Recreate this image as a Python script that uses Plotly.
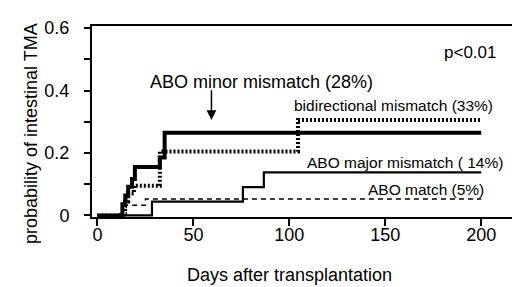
import plotly.graph_objects as go

# ---- data (days after transplantation, cumulative probability) ----
minor_days = [0, 13, 14.5, 16, 18, 19.5, 32.5, 35, 200]
minor_vals = [0, 0.036, 0.064, 0.092, 0.117, 0.155, 0.186, 0.265, 0.265]

bidir_days = [0, 12.3, 14.4, 16, 19, 32.5, 104.5, 200]
bidir_vals = [0, 0.014, 0.045, 0.07, 0.095, 0.205, 0.306, 0.306]

major_days = [0, 28.4, 75.8, 86.7, 200]
major_vals = [0, 0.044, 0.091, 0.138, 0.138]

match_days = [0, 15, 25, 200]
match_vals = [0, 0.033, 0.053, 0.053]

x_ticks = [0, 50, 100, 150, 200]
y_ticks = [0, 0.1, 0.2, 0.3, 0.4, 0.5, 0.6]
y_ticktext = ["0", "", "0.2", "", "0.4", "", "0.6"]

FONT = "Liberation Sans, Arial, sans-serif"

W, H = 520, 287
ML, MR, MT, MB = 84, 11, 14, 78
XR = [-2.85, 217.6]
YR = [-0.005, 0.607]
PW, PH = W - ML - MR, H - MT - MB


def px2x(px):
    return XR[0] + (px - ML) / PW * (XR[1] - XR[0])


def px2y(py):
    return YR[1] - (py - MT) / PH * (YR[1] - YR[0])


fig = go.Figure()
fig.add_trace(go.Scatter(x=match_days, y=match_vals, mode="lines", line_shape="hv",
                         line=dict(color="black", width=1.5, dash="5px,4px")))
fig.add_trace(go.Scatter(x=major_days, y=major_vals, mode="lines", line_shape="hv",
                         line=dict(color="black", width=2.2)))
fig.add_trace(go.Scatter(x=bidir_days, y=bidir_vals, mode="lines", line_shape="hv",
                         line=dict(color="black", width=4, dash="2px,2px")))
fig.add_trace(go.Scatter(x=minor_days, y=minor_vals, mode="lines", line_shape="hv",
                         line=dict(color="black", width=4)))

ann = [
    ("ABO minor mismatch (28%)", 254, 71, 18),
    ("p<0.01", 464, 41, 17),
    ("bidirectional mismatch (33%)", 387, 95, 15.5),
    ("ABO major mismatch ( 14%)", 398, 153, 15.5),
    ("ABO match (5%)", 420, 181, 15.5),
]
for text, cx, cy, fs in ann:
    fig.add_annotation(x=px2x(cx), y=px2y(cy), xref="x", yref="y", text=text,
                       showarrow=False, xanchor="center", yanchor="middle",
                       font=dict(family=FONT, size=fs, color="black"))

# arrow
fig.add_annotation(x=px2x(204), y=px2y(110), ax=px2x(204), ay=px2y(78),
                   xref="x", yref="y", axref="x", ayref="y", text="",
                   showarrow=True, arrowhead=2, arrowsize=1.3, arrowwidth=1.5,
                   arrowcolor="black")

# axis titles
fig.add_annotation(x=(22 - ML) / PW, y=1 - (124 - MT) / PH, xref="paper", yref="paper",
                   text="probability of intestinal TMA", showarrow=False, textangle=-90,
                   xanchor="center", yanchor="middle",
                   font=dict(family=FONT, size=18, color="black"))
fig.add_annotation(x=(282 - ML) / PW, y=1 - (268 - MT) / PH,
                   xref="paper", yref="paper", text="Days after transplantation",
                   showarrow=False, xanchor="center", yanchor="middle",
                   font=dict(family=FONT, size=18, color="black"))

fig.update_layout(
    width=W, height=H,
    margin=dict(l=ML, r=MR, t=MT, b=MB, pad=0),
    paper_bgcolor="white", plot_bgcolor="white",
    showlegend=False,
    font=dict(family=FONT, size=18, color="black"),
)
fig.update_xaxes(range=XR, tickvals=x_ticks, ticks="outside", ticklen=7, tickwidth=1.5,
                 tickcolor="black", showline=True, mirror=True, linewidth=2, linecolor="black",
                 showgrid=False, zeroline=False, tickfont=dict(family=FONT, size=18),
                 ticklabelstandoff=-7)
fig.update_yaxes(range=YR, tickvals=y_ticks, ticktext=y_ticktext, ticks="outside", ticklen=6,
                 tickwidth=1.5, tickcolor="black", showline=True, mirror=True, linewidth=2,
                 linecolor="black", showgrid=False, zeroline=False,
                 tickfont=dict(family=FONT, size=18), ticklabelstandoff=11)

fig.write_html("out.html")
